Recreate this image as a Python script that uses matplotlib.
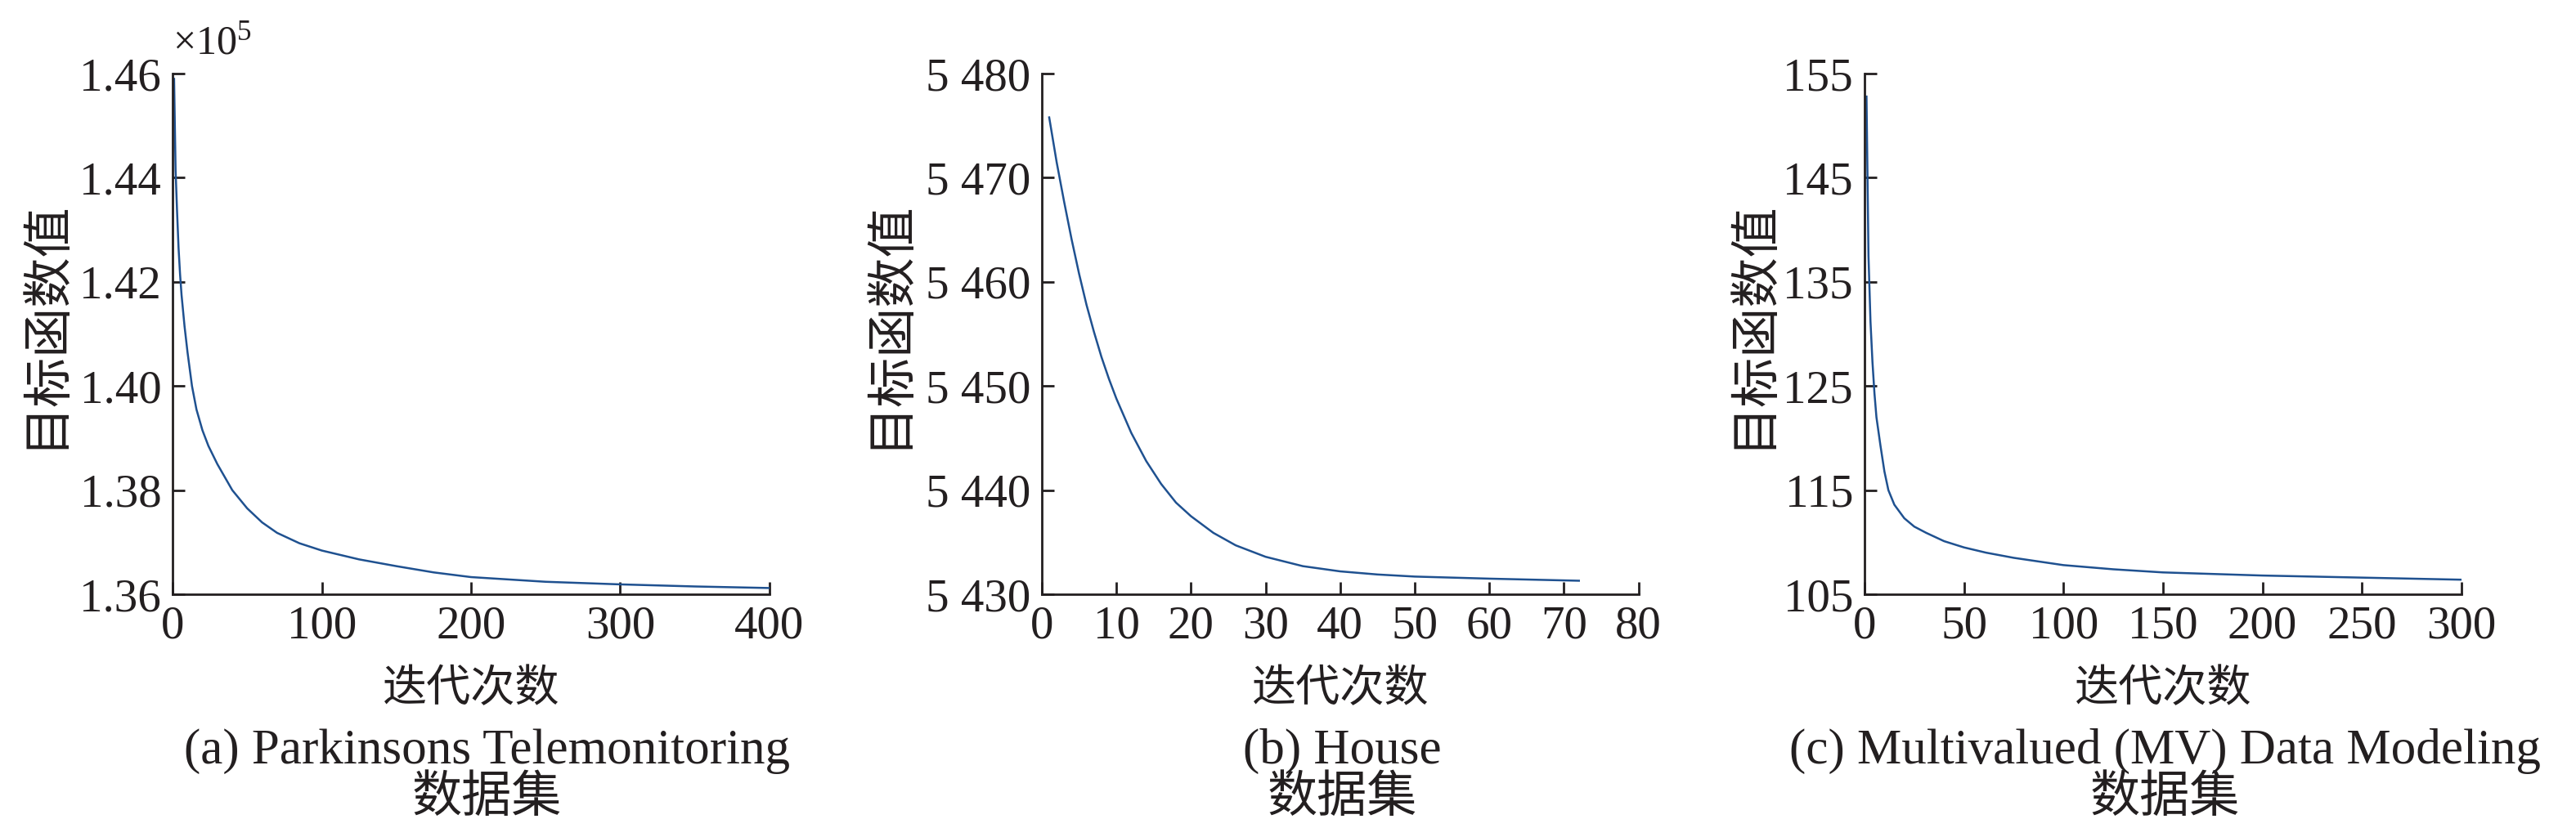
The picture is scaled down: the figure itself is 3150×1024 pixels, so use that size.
import numpy as np
import matplotlib
matplotlib.use('Agg')
import matplotlib.pyplot as plt
from matplotlib.ticker import FuncFormatter

plt.rcParams['font.family'] = ['Liberation Serif', 'Noto Sans CJK SC']
plt.rcParams['mathtext.fontset'] = 'stix'

# (a) Parkinsons Telemonitoring
iter_a = [1, 2, 3, 4, 5, 6, 8, 10, 13, 16, 20, 24, 30, 40, 50, 60, 70, 85,
          100, 125, 150, 175, 200, 250, 300, 350, 400]
obj_a = [145900, 144150, 143350, 142650, 142150, 141750, 141150, 140650,
         140000, 139550, 139150, 138850, 138500, 138000, 137650, 137380,
         137180, 136980, 136840, 136670, 136540, 136420, 136330, 136240,
         136190, 136150, 136120]

# (b) House
iter_b = [1, 2, 3, 4, 5, 6, 7, 8, 9, 10, 12, 14, 16, 18, 20, 23, 26, 30,
          35, 40, 45, 50, 55, 60, 66, 72]
obj_b = [5475.8, 5471.5, 5467.7, 5464.1, 5460.8, 5457.8, 5455.2, 5452.8,
         5450.7, 5448.8, 5445.5, 5442.8, 5440.6, 5438.8, 5437.5, 5435.9,
         5434.7, 5433.6, 5432.7, 5432.2, 5431.9, 5431.7, 5431.6, 5431.5,
         5431.4, 5431.3]

# (c) Multivalued (MV) Data Modeling
iter_c = [1, 2, 3, 4, 5, 6, 8, 10, 12, 15, 20, 25, 31, 40, 50, 61, 75,
          100, 125, 150, 200, 250, 300]
obj_c = [152.8, 137.5, 131.2, 127.3, 124.3, 122.0, 119.3, 116.8, 115.0,
         113.6, 112.3, 111.5, 110.9, 110.1, 109.5, 109.0, 108.5, 107.8,
         107.4, 107.1, 106.8, 106.6, 106.4]

panels = [
    dict(x=iter_a, y=obj_a, xticks=[0, 100, 200, 300, 400],
         yticks=[136000, 138000, 140000, 142000, 144000, 146000],
         fmt=lambda v, p: '%.2f' % (v / 1e5),
         title='(a) Parkinsons Telemonitoring\n数据集', ylab_x=-0.174, title_x=0.189),
    dict(x=iter_b, y=obj_b, xticks=list(range(0, 81, 10)),
         yticks=[5430, 5440, 5450, 5460, 5470, 5480],
         fmt=lambda v, p: '%d %03d' % (int(v) // 1000, int(v) % 1000),
         title='(b) House\n数据集', ylab_x=-0.216, title_x=0.521),
    dict(x=iter_c, y=obj_c, xticks=list(range(0, 301, 50)),
         yticks=[105, 115, 125, 135, 145, 155],
         fmt=lambda v, p: '%d' % v,
         title='(c) Multivalued (MV) Data Modeling\n数据集', ylab_x=-0.147, title_x=0.8405),
]

lefts = [0.067, 0.4044, 0.7238]
ink = '#231f20'

fig = plt.figure(figsize=(31.5, 10.24), dpi=100)
for left, p in zip(lefts, panels):
    ax = fig.add_axes([left, 0.29, 0.2317, 0.622])
    ax.plot(p['x'], p['y'], color='#1f5190', lw=1.8)
    ax.set_xlim(p['xticks'][0], p['xticks'][-1])
    ax.set_ylim(p['yticks'][0], p['yticks'][-1])
    ax.set_xticks(p['xticks'])
    ax.set_yticks(p['yticks'])
    ax.yaxis.set_major_formatter(FuncFormatter(p['fmt']))
    for s in ['top', 'right']:
        ax.spines[s].set_visible(False)
    for s in ['left', 'bottom']:
        ax.spines[s].set_linewidth(2.0)
        ax.spines[s].set_color(ink)
    ax.tick_params(direction='in', length=11, width=2.0, labelsize=41,
                   colors=ink, pad=10)
    ax.set_xlabel('迭代次数', fontsize=39, color=ink)
    ax.xaxis.set_label_coords(0.5, -0.145)
    ax.set_ylabel('目标函数值', fontsize=44, color=ink)
    ax.yaxis.set_label_coords(p['ylab_x'], 0.52)
    fig.text(p['title_x'], 0.074, p['title'], ha='center', va='center',
             fontsize=44, color=ink, linespacing=1.05)
    if left == lefts[0]:
        ax.text(0.0, 1.02, '×10$^{\\mathregular{5}}$', transform=ax.transAxes,
                fontsize=36, ha='left', va='bottom', color=ink)

fig.savefig('out.png', dpi=100, facecolor='white')
